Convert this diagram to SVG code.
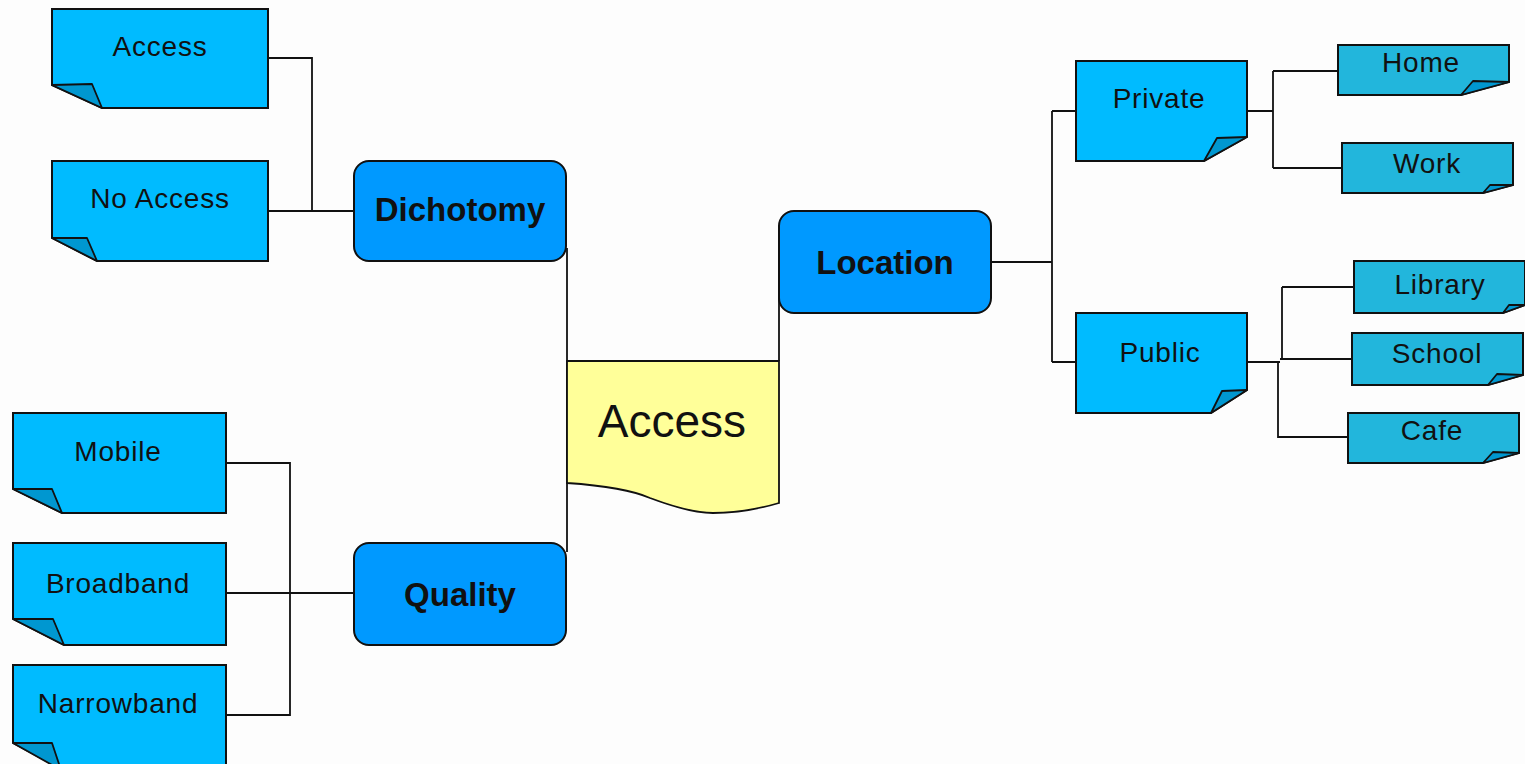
<svg xmlns="http://www.w3.org/2000/svg" width="1525" height="764" viewBox="0 0 1525 764">
<style>
.note{fill:#00bbff;stroke:#111;stroke-width:2}
.note2{fill:#22b6dc;stroke:#111;stroke-width:2}
.fold{fill:#0097d0;stroke:#111;stroke-width:1.8;stroke-linejoin:round}
.hub{fill:#0099ff;stroke:#111;stroke-width:2}
.center{fill:#ffff99;stroke:#111;stroke-width:1.8}
.conn{fill:none;stroke:#111;stroke-width:1.8}
.t{font-family:"Liberation Sans",Arial,sans-serif;font-size:28px;fill:#111;text-anchor:middle;letter-spacing:0.8px}
.tb{font-family:"Liberation Sans",Arial,sans-serif;font-size:33px;font-weight:bold;fill:#111;text-anchor:middle}
.tc{font-family:"Liberation Sans",Arial,sans-serif;font-size:46px;fill:#111;text-anchor:middle}
</style>
<rect width="1525" height="764" fill="#fdfdfd"/>
<g id="connectors">
<path class="conn" d="M268,58 H312 V211"/>
<path class="conn" d="M268,211 H354"/>
<path class="conn" d="M567,248 V552"/>
<path class="conn" d="M779,298 V361"/>
<path class="conn" d="M991,262 H1052 M1052,111 V362 M1052,111 H1076 M1052,362 H1076"/>
<path class="conn" d="M1247,111 H1273 M1273,71 V168 M1273,71 H1338 M1273,168 H1342"/>
<path class="conn" d="M1247,362 H1280 M1282,287 V360 M1282,287 H1354 M1280,359 H1352 M1278,362 V437 H1348"/>
<path class="conn" d="M226,463 H290 V715 H226 M226,593 H354"/>
</g>
<g id="n-access-yes">
<path class="note" d="M52,9 H268 V108 H102 L52,85 Z"/>
<path class="fold" d="M52,85 L92,84 L102,108 Z"/>
<text class="t" x="160" y="56">Access</text>
</g>
<g id="n-no-access">
<path class="note" d="M52,161 H268 V261 H97 L52,238 Z"/>
<path class="fold" d="M52,238 L87,238 L97,261 Z"/>
<text class="t" x="160" y="208">No Access</text>
</g>
<g id="n-dichotomy">
<rect class="hub" x="354" y="161" width="212" height="100" rx="15"/>
<text class="tb" x="460" y="221">Dichotomy</text>
</g>
<g id="n-center">
<path class="center" d="M567,361 H779 V503 Q745,513 713,513 Q690,513 650,498 Q625,487 567,483 Z"/>
<text class="tc" x="672" y="437">Access</text>
</g>
<g id="n-location">
<rect class="hub" x="779" y="211" width="212" height="102" rx="15"/>
<text class="tb" x="885" y="274">Location</text>
</g>
<g id="n-quality">
<rect class="hub" x="354" y="543" width="212" height="102" rx="15"/>
<text class="tb" x="460" y="606">Quality</text>
</g>
<g id="n-mobile">
<path class="note" d="M13,413 H226 V513 H62 L13,489 Z"/>
<path class="fold" d="M13,489 L52,489 L62,513 Z"/>
<text class="t" x="118" y="461">Mobile</text>
</g>
<g id="n-broadband">
<path class="note" d="M13,543 H226 V645 H64 L13,619 Z"/>
<path class="fold" d="M13,619 L53,619 L64,645 Z"/>
<text class="t" x="118" y="593">Broadband</text>
</g>
<g id="n-narrowband">
<path class="note" d="M13,665 H226 V770 H63 L13,743 Z"/>
<path class="fold" d="M13,743 L52,743 L61,770 Z"/>
<text class="t" x="118" y="713">Narrowband</text>
</g>
<g id="n-private">
<path class="note" d="M1076,61 H1247 V137 L1204,161 H1076 Z"/>
<path class="fold" d="M1204,161 L1217,138 L1247,137 Z"/>
<text class="t" x="1159" y="108">Private</text>
</g>
<g id="n-public">
<path class="note" d="M1076,313 H1247 V390 L1211,413 H1076 Z"/>
<path class="fold" d="M1211,413 L1222,391 L1247,390 Z"/>
<text class="t" x="1160" y="362">Public</text>
</g>
<g id="n-home">
<path class="note2" d="M1338,45 H1509 V82 L1461,95 H1338 Z"/>
<path class="fold" d="M1461,95 L1473,81 L1509,82 Z"/>
<text class="t" x="1421" y="72">Home</text>
</g>
<g id="n-work">
<path class="note2" d="M1342,143 H1513 V185 L1483,193 H1342 Z"/>
<path class="fold" d="M1483,193 L1490,185 L1513,185 Z"/>
<text class="t" x="1427" y="173">Work</text>
</g>
<g id="n-library">
<path class="note2" d="M1354,261 H1525 V305 L1503,313 H1354 Z"/>
<path class="fold" d="M1503,313 L1509,305 L1525,305 Z"/>
<text class="t" x="1440" y="294">Library</text>
</g>
<g id="n-school">
<path class="note2" d="M1352,333 H1523 V375 L1488,385 H1352 Z"/>
<path class="fold" d="M1488,385 L1497,374 L1523,375 Z"/>
<text class="t" x="1437" y="363">School</text>
</g>
<g id="n-cafe">
<path class="note2" d="M1348,413 H1519 V453 L1483,463 H1348 Z"/>
<path class="fold" d="M1483,463 L1493,452 L1519,453 Z"/>
<text class="t" x="1432" y="440">Cafe</text>
</g>
</svg>
